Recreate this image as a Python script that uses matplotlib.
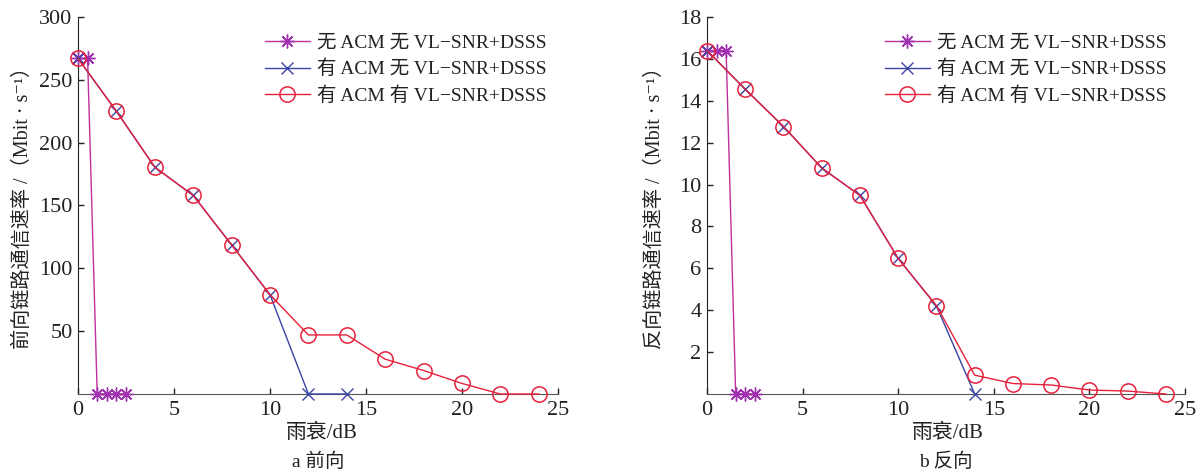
import matplotlib
matplotlib.use("Agg")
import matplotlib.pyplot as plt

# ---- data ----
fwd_x_star = [0, 0.5, 1, 1.5, 2, 2.5]
fwd_y_star = [267, 267, 0, 0, 0, 0]
fwd_x_cross = [0, 2, 4, 6, 8, 10, 12, 14]
fwd_y_cross = [267, 225, 180.5, 158, 118.7, 79, 0, 0]
fwd_x_circ = [0, 2, 4, 6, 8, 10, 12, 14, 16, 18, 20, 22, 24]
fwd_y_circ = [267, 225, 180.5, 158, 118.7, 79, 47, 47, 27.7, 18.7, 8.4, 0, 0]

rev_x_star = [0, 0.5, 1, 1.5, 2, 2.5]
rev_y_star = [16.4, 16.4, 16.4, 0, 0, 0]
rev_x_cross = [0, 2, 4, 6, 8, 10, 12, 14]
rev_y_cross = [16.4, 14.55, 12.77, 10.79, 9.48, 6.47, 4.2, 0]
rev_x_circ = [0, 2, 4, 6, 8, 10, 12, 14, 16, 18, 20, 22, 24]
rev_y_circ = [16.4, 14.55, 12.77, 10.79, 9.48, 6.47, 4.22, 0.9, 0.5, 0.43, 0.19, 0.14, 0]

labels = ["无 ACM 无 VL−SNR+DSSS", "有 ACM 无 VL−SNR+DSSS", "有 ACM 有 VL−SNR+DSSS"]
xticks = [0, 5, 10, 15, 20, 25]
fwd_yticks = [50, 100, 150, 200, 250, 300]
rev_yticks = [2, 4, 6, 8, 10, 12, 14, 16, 18]
xlabel = "雨衰/dB"
fwd_ylabel = "前向链路通信速率 /（Mbit · s⁻¹）"
rev_ylabel = "反向链路通信速率 /（Mbit · s⁻¹）"
captions = ["a 前向", "b 反向"]

plt.rcParams['font.family'] = ['Liberation Serif', 'Noto Sans CJK SC', 'DejaVu Sans']

c_star = '#a030b0'
c_star_line = '#c0309a'
c_cross = '#3a45a5'
c_circ = '#e8203c'
txt = '#222222'
mix = ['Liberation Serif', 'Noto Sans CJK SC', 'DejaVu Sans']

W, H = 1198, 473
fig = plt.figure(figsize=(W / 100, H / 100), dpi=100)

def make_axes(rect, xs, ys, xc, yc, xo, yo, ymax, yticks, ylabel, leg_xy, ylab_x):
    ax = fig.add_axes(rect)
    ax.plot(xs, ys, color=c_star_line, lw=1.0, marker=(8, 2, 0), ms=10,
            mec=c_star, mew=1.0, clip_on=False, zorder=3, label=labels[0])
    ax.plot(xc, yc, color=c_cross, lw=1.0, marker='x', ms=8,
            mec=c_cross, mew=1.0, clip_on=False, zorder=4, label=labels[1])
    ax.plot(xo, yo, color=c_circ, lw=1.0, marker='o', ms=11, mfc='none',
            mec=c_circ, mew=1.1, clip_on=False, zorder=5, label=labels[2])
    ax.set_xlim(0, 25)
    ax.set_ylim(0, ymax)
    ax.set_xticks(xticks)
    ax.set_yticks(yticks)
    for s in ['top', 'right']:
        ax.spines[s].set_visible(False)
    ax.spines['left'].set_color('#222222')
    ax.spines['bottom'].set_color('#555555')
    ax.tick_params(direction='in', length=4, width=1.0, labelsize=16, pad=4,
                   colors=txt)
    ax.tick_params(axis='x', pad=5)
    ax.set_ylabel(ylabel, fontsize=14.5, family=mix, color=txt, va='center')
    ax.yaxis.set_label_coords(ylab_x, 0.5 * (79 + 456) / H + 3 / H, transform=fig.transFigure)
    leg = ax.legend(loc='upper left', bbox_to_anchor=leg_xy, bbox_transform=fig.transFigure,
                    frameon=False, fontsize=14, handlelength=2.3, handletextpad=0.35,
                    labelspacing=0.42, borderpad=0, borderaxespad=0)
    for t in leg.get_texts():
        t.set_color(txt)
    return ax

ax1 = make_axes([78 / W, 79 / H, 480 / W, 377 / H], fwd_x_star, fwd_y_star,
                fwd_x_cross, fwd_y_cross, fwd_x_circ, fwd_y_circ, 300, fwd_yticks,
                fwd_ylabel, (265 / W, 1 - 34 / H), 23 / W)
ax2 = make_axes([707 / W, 79 / H, 478 / W, 377 / H], rev_x_star, rev_y_star,
                rev_x_cross, rev_y_cross, rev_x_circ, rev_y_circ, 18, rev_yticks,
                rev_ylabel, (885 / W, 1 - 34 / H), 655 / W)

fig.text(322 / W, 1 - 433 / H, xlabel, ha='center', va='center', fontsize=15,
         family=mix, color=txt)
fig.text(948 / W, 1 - 433 / H, xlabel, ha='center', va='center', fontsize=15,
         family=mix, color=txt)
fig.text(318 / W, 1 - 462 / H, captions[0], ha='center', va='center', fontsize=14,
         family=mix, color=txt)
fig.text(946 / W, 1 - 462 / H, captions[1], ha='center', va='center', fontsize=14,
         family=mix, color=txt)

fig.savefig('out.png', dpi=100)
